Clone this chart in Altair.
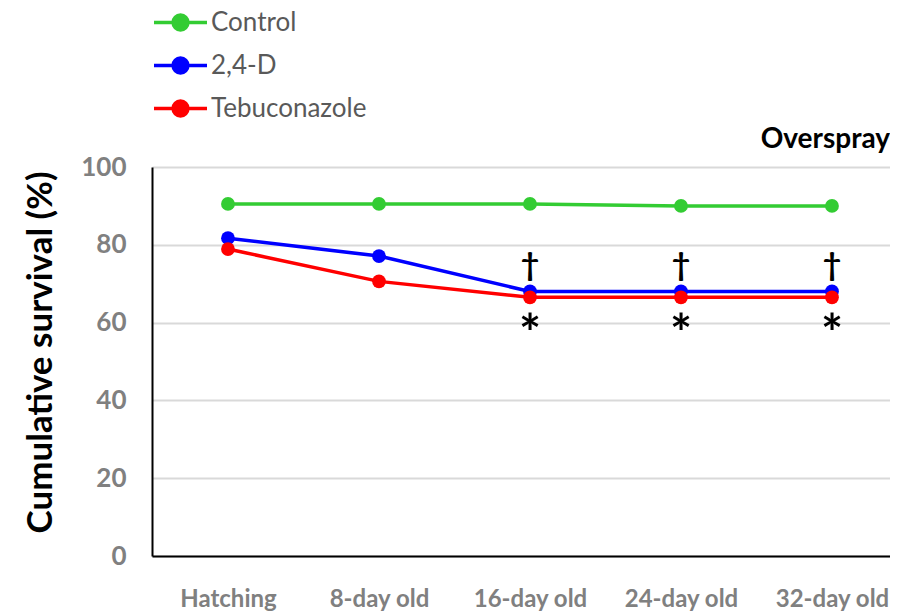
import altair as alt
import pandas as pd

categories = ["Hatching", "8-day old", "16-day old", "24-day old", "32-day old"]
series_names = ["Control", "2,4-D", "Tebuconazole"]
series_colors = ["#33cc33", "#0000ff", "#ff0000"]
control = [90.5, 90.5, 90.5, 90.0, 90.0]
d24 = [81.7, 77.1, 68.0, 68.0, 68.0]
tebu = [78.9, 70.6, 66.5, 66.5, 66.5]
y_ticks = [0, 20, 40, 60, 80, 100]
dagger_cats = ["16-day old", "24-day old", "32-day old"]
star_cats = ["16-day old", "24-day old", "32-day old"]

rows = []
for name, vals in zip(series_names, [control, d24, tebu]):
    for c, v in zip(categories, vals):
        rows.append({"stage": c, "series": name, "value": v})
df = pd.DataFrame(rows)

dag = pd.DataFrame({"stage": dagger_cats,
                    "value": [d24[categories.index(c)] for c in dagger_cats],
                    "mark": ["†"] * len(dagger_cats)})
star = pd.DataFrame({"stage": star_cats,
                     "value": [tebu[categories.index(c)] for c in star_cats],
                     "mark": ["*"] * len(star_cats)})

FONT = "Lato"

x = alt.X("stage:N", sort=categories,
          scale=alt.Scale(type="point", padding=0.4437, align=0.567),
          axis=alt.Axis(title=None, labelAngle=0, labelFontSize=24, labelFont=FONT,
                        labelFontWeight="bold", labelColor="#808080", labelPadding=31,
                        ticks=False, domainColor="#000000", domainWidth=2, grid=False,
                        labelOverlap=False, labelBound=False))
y = alt.Y("value:Q", scale=alt.Scale(domain=[0, 100], nice=False),
          axis=alt.Axis(values=y_ticks, title="Cumulative survival (%)", titleFontSize=35,
                        titleFont=FONT, titleFontWeight="bold", titleColor="#000000",
                        titleX=-112, titleY=185, titleAngle=270, titleBaseline="middle",
                        labelFontSize=26, labelFont=FONT, labelFontWeight="bold",
                        labelColor="#808080", labelPadding=26, ticks=False,
                        domainColor="#000000", domainWidth=2,
                        grid=True, gridColor="#d9d9d9", gridWidth=2))

color = alt.Color("series:N", sort=series_names,
                  scale=alt.Scale(domain=series_names, range=series_colors),
                  legend=alt.Legend(title=None, orient="none", legendX=0, legendY=-173,
                                    labelFont=FONT, labelFontSize=26, labelColor="#595959",
                                    symbolType="M-1,0L1,0M0.28,0A0.28,0.28,0,1,1,-0.28,0A0.28,0.28,0,1,1,0.28,0Z",
                                    symbolSize=2809, symbolStrokeWidth=3.5,
                                    rowPadding=0, labelOffset=2))

base = alt.Chart(df)
lines = base.mark_line(strokeWidth=3.5).encode(x=x, y=y, color=color)
points = base.mark_point(filled=True, size=190, opacity=1).encode(x=x, y=y, color=color)

dag_layer = alt.Chart(dag).mark_text(font=FONT, fontSize=32, fontWeight="bold",
                                     color="#000000", dy=-25, baseline="middle").encode(
    x=alt.X("stage:N", sort=categories), y="value:Q", text="mark:N")
star_layer = alt.Chart(star).mark_text(font=FONT, fontSize=52, fontWeight="bold",
                                       color="#000000", dy=14, baseline="top").encode(
    x=alt.X("stage:N", sort=categories), y="value:Q", text="mark:N")

chart = alt.layer(lines, points, dag_layer, star_layer).properties(
    width=738, height=389,
    title=alt.TitleParams("Overspray", anchor="end", font=FONT, fontSize=28,
                          fontWeight="bold", color="#000000", offset=25,
                          baseline="alphabetic", frame="group", dy=207),
    autosize=alt.AutoSizeParams(type="none"),
    padding={"left": 144, "top": 159, "right": 0, "bottom": 57},
).configure_view(stroke=None)

chart.save("out.html", embed_options={"renderer": "svg", "actions": False})
